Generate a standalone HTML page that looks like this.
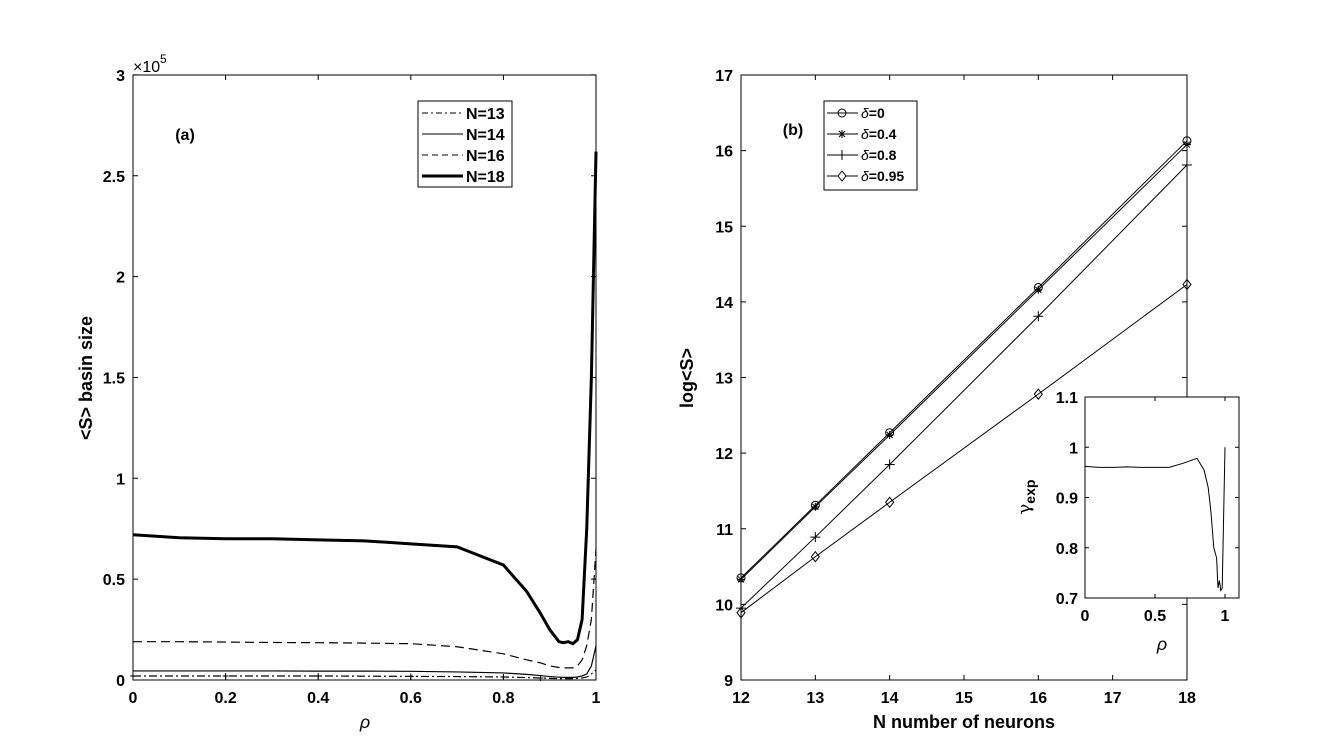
<!DOCTYPE html>
<html><head><meta charset="utf-8"><style>body{margin:0;background:#fff}svg{display:block;font-family:"Liberation Sans",sans-serif}</style></head>
<body>
<svg id="c" width="1322" height="756" xmlns="http://www.w3.org/2000/svg"></svg>
<script>
const rhoA=[0,0.1,0.2,0.3,0.4,0.5,0.6,0.7,0.8,0.85,0.88,0.9,0.92,0.93,0.94,0.95,0.96,0.97,0.98,0.99,1.0];
const n18=[0.72,0.705,0.70,0.70,0.695,0.69,0.675,0.66,0.57,0.44,0.33,0.25,0.19,0.185,0.19,0.18,0.20,0.30,0.75,1.5,2.62];
const n16=[0.19,0.19,0.188,0.186,0.185,0.183,0.18,0.165,0.13,0.10,0.085,0.07,0.062,0.06,0.06,0.06,0.07,0.10,0.17,0.3,0.65];
const n14=[0.045,0.045,0.045,0.045,0.044,0.044,0.043,0.04,0.035,0.028,0.022,0.017,0.014,0.013,0.013,0.013,0.015,0.02,0.03,0.07,0.17];
const n13=[0.02,0.02,0.02,0.02,0.02,0.019,0.018,0.017,0.015,0.012,0.01,0.008,0.007,0.007,0.007,0.007,0.008,0.01,0.015,0.03,0.05];
const xTicksA=[0,0.2,0.4,0.6,0.8,1];const xLabA=["0","0.2","0.4","0.6","0.8","1"];
const yTicksA=[0,0.5,1,1.5,2,2.5,3];const yLabA=["0","0.5","1","1.5","2","2.5","3"];
const nB=[12,13,14,16,18];
const d0=[10.35,11.31,12.27,14.19,16.13];
const d04=[10.33,11.29,12.24,14.16,16.08];
const d08=[9.95,10.89,11.85,13.81,15.81];
const d095=[9.89,10.63,11.35,12.78,14.23];
const xTicksB=[12,13,14,15,16,17,18];const yTicksB=[9,10,11,12,13,14,15,16,17];
const rhoI=[0,0.1,0.2,0.3,0.4,0.5,0.6,0.7,0.8,0.85,0.88,0.9,0.92,0.94,0.95,0.96,0.97,0.98,1.0];
const gam=[0.962,0.96,0.96,0.961,0.96,0.96,0.96,0.968,0.978,0.955,0.92,0.87,0.80,0.78,0.72,0.735,0.715,0.72,1.0];
const xTicksI=[0,0.5,1];const xLabI=["0","0.5","1"];const yTicksI=[0.7,0.8,0.9,1,1.1];const yLabI=["0.7","0.8","0.9","1","1.1"];

const S=document.getElementById('c');const NS="http://www.w3.org/2000/svg";
function mk(t,a,p){const e=document.createElementNS(NS,t);for(const k in a)e.setAttribute(k,a[k]);(p||S).appendChild(e);return e;}
function txt(x,y,s,a){const e=mk('text',Object.assign({x:x,y:y,'font-size':16,'font-weight':'bold','text-anchor':'middle'},a||{}));e.textContent=s;return e;}

// Panel A
const ax=v=>133+v*463, ay=v=>680-v*201.7;
const A=mk('g',{});
function series(xs,ys,fx,fy,st,name,g){const p=mk('polyline',Object.assign({points:xs.map((x,i)=>fx(x)+','+fy(ys[i])).join(' '),fill:'none',stroke:'#000'},st),g);return p;}
series(rhoA,n13,ax,ay,{'stroke-width':1.2,'stroke-dasharray':'8 3 2 3'},'line-n13',A);
rhoA.forEach((r,i)=>{if(r<=0.9&&i%2==0){const m=mk('path',{d:`M${ax(r)-3},${ay(n13[i])}h6M${ax(r)},${ay(n13[i])-3}v6`,stroke:'#000','stroke-width':1},A);}});
series(rhoA,n14,ax,ay,{'stroke-width':1.2},'line-n14',A);
series(rhoA,n16,ax,ay,{'stroke-width':1.2,'stroke-dasharray':'9 5'},'line-n16',A);
series(rhoA,n18,ax,ay,{'stroke-width':3},'line-n18',A);
let r=mk('rect',{x:133,y:75,width:463,height:605,fill:'none',stroke:'#000','stroke-width':1},A);
xTicksA.forEach((t,i)=>{mk('path',{d:`M${ax(t)},680v-5M${ax(t)},75v5`,stroke:'#000'},A);const e=txt(ax(t),703,xLabA[i]);});
yTicksA.forEach((t,i)=>{mk('path',{d:`M133,${ay(t)}h5M596,${ay(t)}h-5`,stroke:'#000'},A);const e=txt(125,ay(t)+6,yLabA[i],{'text-anchor':'end'});});
let e=txt(133,72,'×10',{'text-anchor':'start','font-weight':'normal'});
e=txt(160,63,'5',{'text-anchor':'start','font-weight':'normal','font-size':12});
e=txt(365,728,'ρ',{'font-style':'italic','font-weight':'normal','font-size':18});
e=txt(92,378,'<S> basin size',{transform:'rotate(-90 92 378)','font-size':18});
e=txt(185,140,'(a)');
const LA=mk('g',{},A);
mk('rect',{x:418,y:101,width:94,height:86,fill:'#fff',stroke:'#000'},LA);
[['N=13',{'stroke-width':1,'stroke-dasharray':'6 3 2 3'}],['N=14',{'stroke-width':1}],['N=16',{'stroke-width':1,'stroke-dasharray':'6 4'}],['N=18',{'stroke-width':3}]].forEach((d,i)=>{const y=113+i*21;const g=mk('g',{},LA);mk('line',Object.assign({x1:422,x2:463,y1:y,y2:y,stroke:'#000'},d[1]),g);txt(466,y+6,d[0],{'text-anchor':'start'}).parentNode===g||g.appendChild(S.lastChild);});

// Panel B
const bx=v=>741+(v-12)*74.33, by=v=>680-(v-9)*75.625;
const B=mk('g',{});
function markers(ys,kind,g){nB.forEach((n,i)=>{const x=bx(n),y=by(ys[i]);let m;
 if(kind=='o')m=mk('circle',{cx:x,cy:y,r:4,fill:'none',stroke:'#000'},g);
 else if(kind=='*')m=mk('path',{d:`M${x-4},${y}h8M${x},${y-4}v8M${x-3},${y-3}l6,6M${x-3},${y+3}l6,-6`,stroke:'#000'},g);
 else if(kind=='+')m=mk('path',{d:`M${x-5},${y}h10M${x},${y-5}v10`,stroke:'#000'},g);
 else m=mk('path',{d:`M${x},${y-5}l4,5l-4,5l-4,-5z`,fill:'none',stroke:'#000'},g);
 });}
[[d0,'o','line-delta-0'],[d04,'*','line-delta-0.4'],[d08,'+','line-delta-0.8'],[d095,'d','line-delta-0.95']].forEach(s=>{series(nB,s[0],bx,by,{'stroke-width':1},s[2],B);markers(s[0],s[1],B);});
r=mk('rect',{x:741,y:75,width:446,height:605,fill:'none',stroke:'#000'},B);
xTicksB.forEach(t=>{mk('path',{d:`M${bx(t)},680v-5M${bx(t)},75v5`,stroke:'#000'},B);const e=txt(bx(t),703,String(t));});
yTicksB.forEach(t=>{mk('path',{d:`M741,${by(t)}h5M1187,${by(t)}h-5`,stroke:'#000'},B);const e=txt(733,by(t)+6,String(t),{'text-anchor':'end'});});
e=txt(964,728,'N number of neurons',{'font-size':18});
e=txt(693,378,'log<S>',{transform:'rotate(-90 693 378)','font-size':18});
e=txt(793,135,'(b)');
const LB=mk('g',{},B);
mk('rect',{x:824,y:101,width:93,height:89,fill:'#fff',stroke:'#000'},LB);
const labs=['0','0.4','0.8','0.95'],kinds=['o','*','+','d'];
labs.forEach((l,i)=>{const y=113+i*21;mk('line',{x1:827,x2:858,y1:y,y2:y,stroke:'#000'},LB);
 const x=842;let m;if(kinds[i]=='o')m=mk('circle',{cx:x,cy:y,r:4,fill:'none',stroke:'#000'},LB);else if(kinds[i]=='*')m=mk('path',{d:`M${x-4},${y}h8M${x},${y-4}v8M${x-3},${y-3}l6,6M${x-3},${y+3}l6,-6`,stroke:'#000'},LB);else if(kinds[i]=='+')m=mk('path',{d:`M${x},${y-5}v10`,stroke:'#000'},LB);else m=mk('path',{d:`M${x},${y-5}l4,5l-4,5l-4,-5z`,fill:'#fff',stroke:'#000'},LB);
 const t=mk('text',{x:861,y:y+5,'font-size':14,'font-weight':'bold'},LB);
 const s=mk('tspan',{'font-style':'italic','font-weight':'normal'},t);s.textContent='δ';t.appendChild(document.createTextNode('='+l));});

// Inset
const ix=v=>1085+v*140, iy=v=>598-(v-0.7)*502.5;
const I=mk('g',{});
mk('rect',{x:1085,y:397,width:154,height:201,fill:'#fff',stroke:'#000'},I);
series(rhoI,gam,ix,iy,{'stroke-width':1},'line-gamma',I);
xTicksI.forEach((t,i)=>{mk('path',{d:`M${ix(t)},598v-4M${ix(t)},397v4`,stroke:'#000'},I);const e=txt(ix(t),621,xLabI[i]);});
yTicksI.forEach((t,i)=>{mk('path',{d:`M1085,${iy(t)}h4M1239,${iy(t)}h-4`,stroke:'#000'},I);const e=txt(1078,iy(t)+6,yLabI[i],{'text-anchor':'end'});});
e=txt(1162,650,'ρ',{'font-style':'italic','font-weight':'normal','font-size':18});
const yt=mk('text',{x:1030,y:497,'font-size':18,'text-anchor':'middle',transform:'rotate(-90 1030 497)'},I);
const g1=mk('tspan',{'font-family':'DejaVu Serif, serif'},yt);g1.textContent='γ';const g2=mk('tspan',{'font-size':14,'font-weight':'bold',dy:5},yt);g2.textContent='exp';
</script>
</body></html>
